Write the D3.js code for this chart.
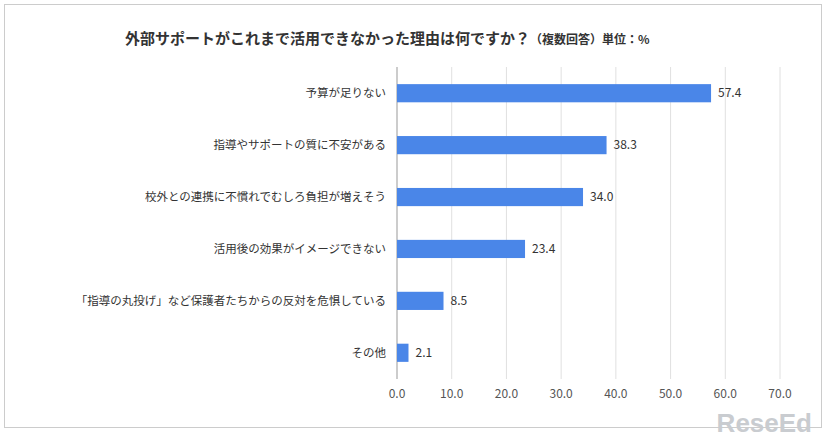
<!DOCTYPE html><html><head><meta charset="utf-8"><script src="https://cdn.jsdelivr.net/npm/d3@7"></script>
<style>body{margin:0;background:#fff;font-family:"Noto Sans CJK JP",sans-serif}</style></head><body><svg id="c" width="826" height="441"></svg>
<script>
const categories=["予算が足りない","指導やサポートの質に不安がある","校外との連携に不慣れでむしろ負担が増えそう","活用後の効果がイメージできない","「指導の丸投げ」など保護者たちからの反対を危惧している","その他"];
const values=[57.4,38.3,34.0,23.4,8.5,2.1];
const ticks=[0,10,20,30,40,50,60,70];
const svg=d3.select("#c");
svg.append("rect").attr("x",4.5).attr("y",4.5).attr("width",817).attr("height",423).attr("fill","none").attr("stroke","#ccc");
const x=d3.scaleLinear().domain([0,70]).range([397,780]);
const y=d3.scaleBand().domain(categories).range([67,379]).paddingInner(0.65).paddingOuter(0.33);
const g=svg.append("g");
g.selectAll("line.g").data(ticks).join("line").attr("x1",d=>x(d)).attr("x2",d=>x(d)).attr("y1",67).attr("y2",379).attr("stroke",d=>d===0?"#999":"#e0e0e0");
g.selectAll("rect.b").data(values).join("rect").attr("x",x(0)).attr("y",(d,i)=>y(categories[i])).attr("width",d=>x(d)-x(0)).attr("height",y.bandwidth()).attr("fill","#4a86e8");
g.selectAll("text.v").data(values).join("text").attr("x",d=>x(d)+7).attr("y",(d,i)=>y(categories[i])+y.bandwidth()/2).attr("dy","0.35em").attr("font-size",12).attr("fill","#333").text(d=>d.toFixed(1));
g.selectAll("text.c").data(categories).join("text").attr("x",386).attr("y",d=>y(d)+y.bandwidth()/2).attr("dy","0.35em").attr("text-anchor","end").attr("font-size",11.5).attr("fill","#333").text(d=>d);
g.selectAll("text.t").data(ticks).join("text").attr("x",d=>x(d)).attr("y",398).attr("text-anchor","middle").attr("font-size",12).attr("fill","#555").text(d=>d.toFixed(1));
const t=svg.append("text").attr("x",125).attr("y",44).attr("fill","#333");
t.append("tspan").attr("font-size",15).attr("font-weight","bold").text("外部サポートがこれまで活用できなかった理由は何ですか？");
t.append("tspan").attr("font-size",12).attr("font-weight","bold").text("（複数回答）単位：%");
svg.append("text").attr("x",812).attr("y",432).attr("text-anchor","end").attr("font-size",26).attr("font-weight","bold").attr("fill","#c9ccd0").attr("font-family","Arial,sans-serif").text("ReseEd");
</script></body></html>
